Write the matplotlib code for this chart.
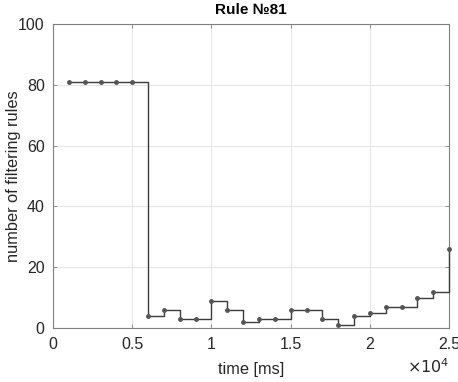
import numpy as np
import matplotlib
matplotlib.use("Agg")
import matplotlib.pyplot as plt
from matplotlib.ticker import FuncFormatter

plt.rcParams['font.family'] = ['Liberation Sans', 'DejaVu Sans']

# time in ms, number of filtering rules
time_ms = [1000, 2000, 3000, 4000, 5000, 6000, 7000, 8000, 9000, 10000,
           11000, 12000, 13000, 14000, 15000, 16000, 17000, 18000, 19000,
           20000, 21000, 22000, 23000, 24000, 25000]
n_rules = [81, 81, 81, 81, 81, 4, 6, 3, 3, 9,
           6, 2, 3, 3, 6, 6, 3, 1, 4,
           5, 7, 7, 10, 12, 26]

fig = plt.figure(figsize=(4.58, 3.82), dpi=100)
ax = fig.add_axes([0.1157, 0.1414, 0.865, 0.7956])

ax.plot(time_ms, n_rules, drawstyle='steps-post', color='#3c3c3c', lw=1.0,
        marker='.', markersize=5, markerfacecolor='#555555',
        markeredgecolor='#555555', clip_on=False, zorder=3)

ax.set_xlim(0, 25000)
ax.set_ylim(0, 100)
ax.set_xticks(np.arange(0, 25001, 5000))
ax.set_yticks(np.arange(0, 101, 20))
ax.xaxis.set_major_formatter(FuncFormatter(lambda v, p: '%g' % (v / 1e4)))

ax.text(1.0, -0.098, r'$\times10^{4}$', transform=ax.transAxes, ha='right',
        va='top', fontsize=11.5, color='#262626')

ax.grid(True, color='#e6e6e6', lw=0.8)
ax.set_axisbelow(True)
for s in ax.spines.values():
    s.set_color('#808080')
    s.set_linewidth(0.8)
ax.tick_params(direction='in', length=3, width=0.6, color='#808080',
               labelsize=11.5, labelcolor='#262626', top=True, right=True)
ax.tick_params(axis='y', pad=6)
ax.tick_params(axis='x', pad=6.5)

ax.set_xlabel('time [ms]', fontsize=11.8, color='#262626', labelpad=7)
ax.set_ylabel('number of filtering rules', fontsize=11.8, color='#262626',
              labelpad=-2)
ax.set_title('Rule №81', fontsize=11, fontweight='bold', color='black', pad=7)

fig.savefig('out.png', dpi=100)
